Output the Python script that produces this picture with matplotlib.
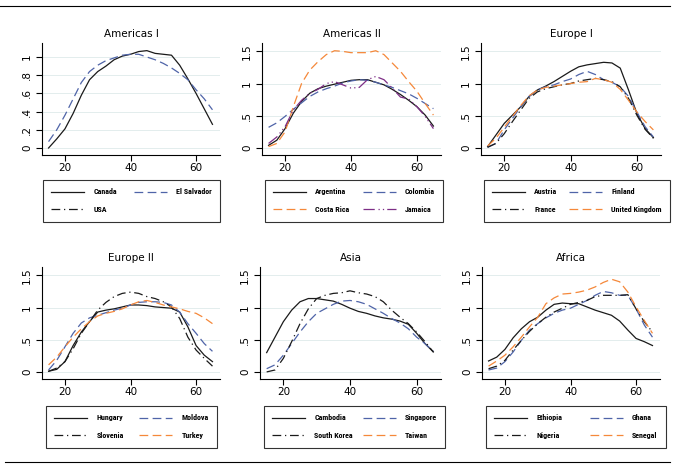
import matplotlib
matplotlib.use("Agg")
import matplotlib.pyplot as plt
from matplotlib.lines import Line2D
from matplotlib.ticker import FixedLocator, FixedFormatter
from matplotlib import font_manager

ages = [15, 17.5, 20, 22.5, 25, 27.5, 30, 32.5, 35, 37.5, 40,
        42.5, 45, 47.5, 50, 52.5, 55, 57.5, 60, 62.5, 65]

# Americas I
canada = [0.00, 0.10, 0.21, 0.38, 0.58, 0.75, 0.84, 0.90, 0.97, 1.01, 1.03,
          1.06, 1.07, 1.04, 1.03, 1.02, 0.91, 0.76, 0.60, 0.43, 0.26]
el_salvador = [0.07, 0.20, 0.36, 0.54, 0.72, 0.84, 0.91, 0.96, 0.99, 1.02, 1.03,
               1.03, 1.00, 0.97, 0.93, 0.88, 0.82, 0.75, 0.64, 0.54, 0.42]
usa = []

# Americas II
argentina = [0.04, 0.12, 0.30, 0.54, 0.72, 0.85, 0.92, 0.96, 0.99, 1.02, 1.05,
             1.06, 1.06, 1.02, 0.98, 0.91, 0.83, 0.74, 0.64, 0.51, 0.34]
colombia = [0.32, 0.39, 0.49, 0.60, 0.70, 0.80, 0.87, 0.92, 0.96, 1.01, 1.04,
            1.06, 1.05, 1.02, 0.98, 0.94, 0.89, 0.84, 0.77, 0.69, 0.61]
costa_rica = [0.02, 0.07, 0.25, 0.64, 1.00, 1.21, 1.34, 1.45, 1.51, 1.50, 1.48,
              1.48, 1.48, 1.51, 1.45, 1.32, 1.19, 1.03, 0.88, 0.69, 0.51]
jamaica = [0.07, 0.17, 0.33, 0.59, 0.74, 0.85, 0.91, 1.00, 1.03, 0.98, 0.93,
           0.94, 1.06, 1.11, 1.06, 0.93, 0.79, 0.76, 0.64, 0.49, 0.30]

# Europe I
austria = [0.02, 0.20, 0.38, 0.51, 0.64, 0.80, 0.90, 0.96, 1.03, 1.11, 1.19,
           1.26, 1.29, 1.31, 1.33, 1.32, 1.24, 0.90, 0.54, 0.30, 0.16]
finland = [0.01, 0.07, 0.28, 0.46, 0.64, 0.80, 0.90, 0.95, 0.98, 1.03, 1.07,
           1.14, 1.19, 1.14, 1.06, 1.02, 0.95, 0.80, 0.56, 0.33, 0.17]
france = [0.01, 0.07, 0.22, 0.41, 0.59, 0.77, 0.87, 0.92, 0.95, 0.98, 1.00,
          1.04, 1.06, 1.08, 1.06, 1.03, 0.95, 0.77, 0.51, 0.29, 0.15]
united_kingdom = [0.03, 0.15, 0.32, 0.49, 0.66, 0.81, 0.90, 0.94, 0.96, 0.98, 1.00,
                  1.02, 1.03, 1.08, 1.06, 1.02, 0.91, 0.74, 0.56, 0.41, 0.28]

# Europe II
hungary = [0.01, 0.04, 0.16, 0.41, 0.62, 0.78, 0.93, 0.96, 0.98, 1.01, 1.04,
           1.04, 1.03, 1.01, 1.00, 0.99, 0.93, 0.70, 0.41, 0.26, 0.16]
moldova = [0.03, 0.18, 0.39, 0.60, 0.76, 0.84, 0.88, 0.92, 0.96, 0.99, 1.04,
           1.08, 1.09, 1.09, 1.08, 1.04, 0.93, 0.75, 0.60, 0.44, 0.32]
slovenia = [0.01, 0.06, 0.16, 0.36, 0.60, 0.78, 0.96, 1.08, 1.17, 1.22, 1.24,
            1.22, 1.17, 1.14, 1.09, 1.01, 0.83, 0.54, 0.34, 0.21, 0.09]
turkey = [0.11, 0.23, 0.39, 0.54, 0.67, 0.78, 0.87, 0.91, 0.94, 0.98, 1.04,
          1.09, 1.11, 1.08, 1.04, 1.01, 0.98, 0.94, 0.91, 0.84, 0.75]

# Asia
cambodia = [0.30, 0.54, 0.78, 0.96, 1.09, 1.14, 1.14, 1.12, 1.10, 1.05, 0.99,
            0.94, 0.91, 0.87, 0.84, 0.82, 0.79, 0.74, 0.60, 0.44, 0.31]
singapore = [0.05, 0.11, 0.26, 0.44, 0.62, 0.78, 0.91, 0.98, 1.05, 1.10, 1.11,
             1.09, 1.05, 0.98, 0.91, 0.83, 0.76, 0.67, 0.54, 0.44, 0.32]
south_korea = [0.00, 0.03, 0.21, 0.47, 0.75, 0.98, 1.14, 1.19, 1.22, 1.23, 1.26,
               1.23, 1.21, 1.17, 1.09, 0.96, 0.85, 0.75, 0.62, 0.47, 0.31]
taiwan = []

# Africa
ethiopia = [0.17, 0.23, 0.35, 0.53, 0.67, 0.78, 0.85, 0.96, 1.05, 1.07, 1.06,
            1.06, 1.01, 0.96, 0.92, 0.88, 0.79, 0.65, 0.52, 0.47, 0.41]
ghana = [0.03, 0.06, 0.16, 0.31, 0.49, 0.65, 0.75, 0.84, 0.91, 0.96, 0.99,
         1.05, 1.11, 1.19, 1.25, 1.23, 1.19, 1.19, 0.98, 0.73, 0.54]
nigeria = [0.05, 0.09, 0.18, 0.34, 0.49, 0.63, 0.75, 0.85, 0.93, 0.99, 1.05,
           1.08, 1.11, 1.17, 1.19, 1.19, 1.19, 1.20, 0.98, 0.78, 0.62]
senegal = [0.09, 0.17, 0.26, 0.39, 0.54, 0.70, 0.85, 1.06, 1.15, 1.21, 1.22,
           1.24, 1.27, 1.32, 1.39, 1.44, 1.40, 1.24, 1.01, 0.80, 0.60]

titles = ["Americas I", "Americas II", "Europe I", "Europe II", "Asia", "Africa"]

BLACK = "#1a1a1a"
BLUE = "#4f64a8"
ORANGE = "#f5883a"
PURPLE = "#7d2e86"

solid = dict(color=BLACK, ls="-")
blue_dash = dict(color=BLUE, ls=(0, (7, 3.5)))
dash_dot = dict(color=BLACK, ls=(0, (7, 3, 1, 3)))
orange_dash = dict(color=ORANGE, ls=(0, (7, 3.5)))
purple_dd = dict(color=PURPLE, ls=(0, (9, 3, 1, 2.5, 1, 2.5)))

panels = [
    [("Canada", canada, solid), ("El Salvador", el_salvador, blue_dash),
     ("USA", usa, dash_dot)],
    [("Argentina", argentina, solid), ("Colombia", colombia, blue_dash),
     ("Costa Rica", costa_rica, orange_dash), ("Jamaica", jamaica, purple_dd)],
    [("Austria", austria, solid), ("Finland", finland, blue_dash),
     ("France", france, dash_dot), ("United Kingdom", united_kingdom, orange_dash)],
    [("Hungary", hungary, solid), ("Moldova", moldova, blue_dash),
     ("Slovenia", slovenia, dash_dot), ("Turkey", turkey, orange_dash)],
    [("Cambodia", cambodia, solid), ("Singapore", singapore, blue_dash),
     ("South Korea", south_korea, dash_dot), ("Taiwan", taiwan, orange_dash)],
    [("Ethiopia", ethiopia, solid), ("Ghana", ghana, blue_dash),
     ("Nigeria", nigeria, dash_dot), ("Senegal", senegal, orange_dash)],
]

# condensed face for the legend labels if there is one
names = {f.name for f in font_manager.fontManager.ttflist}
leg_family = "DejaVu Sans"
for cand in ["Liberation Sans Narrow", "DejaVu Sans Condensed", "Roboto Condensed"]:
    if cand in names:
        leg_family = cand
        break

W, H = 677, 468
fig = plt.figure(figsize=(W / 100, H / 100), dpi=100)
fig.patch.set_facecolor("white")

# axes boxes in pixels: left, top, right, bottom
axes_px = [(42, 43, 220, 155), (262, 43, 441, 155), (481, 43, 661, 155),
           (42, 267, 220, 379), (260, 267, 441, 379), (482, 267, 660, 379)]
legend_px = [(43, 180, 220), (265, 180, 443), (484, 180, 670),
             (46, 406, 217), (264, 406, 445), (486, 406, 666)]

for i, series in enumerate(panels):
    l, t, r, b = axes_px[i]
    ax = fig.add_axes([l / W, 1 - b / H, (r - l) / W, (b - t) / H])
    handles = []
    for name, vals, style in series:
        x = ages[:len(vals)]
        h, = ax.plot(x, vals, lw=0.9, label=name, **style)
        handles.append(h)
    ax.set_xlim(13, 67.3)
    if i == 0:
        ax.set_ylim(-0.077, 1.154)
        yt = [0, 0.2, 0.4, 0.6, 0.8, 1.0]
        ylab = ["0", ".2", ".4", ".6", ".8", "1"]
    else:
        ax.set_ylim(-0.11, 1.63)
        yt = [0, 0.5, 1.0, 1.5]
        ylab = ["0", ".5", "1", "1.5"]
    ax.yaxis.set_major_locator(FixedLocator(yt))
    ax.yaxis.set_major_formatter(FixedFormatter(ylab))
    ax.set_xticks([20, 40, 60])
    for yv in yt:
        ax.axhline(yv, color="#e3eded", lw=0.7, zorder=0)
    for s in ["top", "right"]:
        ax.spines[s].set_visible(False)
    for s in ["left", "bottom"]:
        ax.spines[s].set_linewidth(0.8)
    ax.tick_params(direction="out", length=4, width=0.8, labelsize=7.5, pad=2)
    ax.tick_params(axis="y", pad=3)
    for lab in ax.get_yticklabels():
        lab.set_rotation(90)
        lab.set_va("center")
    ax.set_title(titles[i], fontsize=7.5, pad=4)

    # legend is filled row by row like in the original
    order = handles[0::2] + handles[1::2]
    lx0, ltop, lx1 = legend_px[i]
    leg = fig.legend(order, [h.get_label() for h in order], loc="upper left",
                     bbox_to_anchor=(lx0 / W, 1 - ltop / H, (lx1 - lx0) / W, 0.0001),
                     mode="expand", ncol=2, handlelength=4.1,
                     handletextpad=1.1, labelspacing=1.35, borderpad=1.05,
                     columnspacing=1.0, fancybox=False, borderaxespad=0,
                     prop=dict(family=leg_family, size=5.8, weight="bold"))
    leg.get_frame().set_edgecolor("black")
    leg.get_frame().set_linewidth(0.8)

fig.add_artist(Line2D([0, 670 / W], [1 - 6 / H, 1 - 6 / H], color="black", lw=0.8))
fig.add_artist(Line2D([5 / W, 670 / W], [1 - 462 / H, 1 - 462 / H], color="black", lw=0.8))

fig.savefig("out.png", dpi=100, facecolor="white")
